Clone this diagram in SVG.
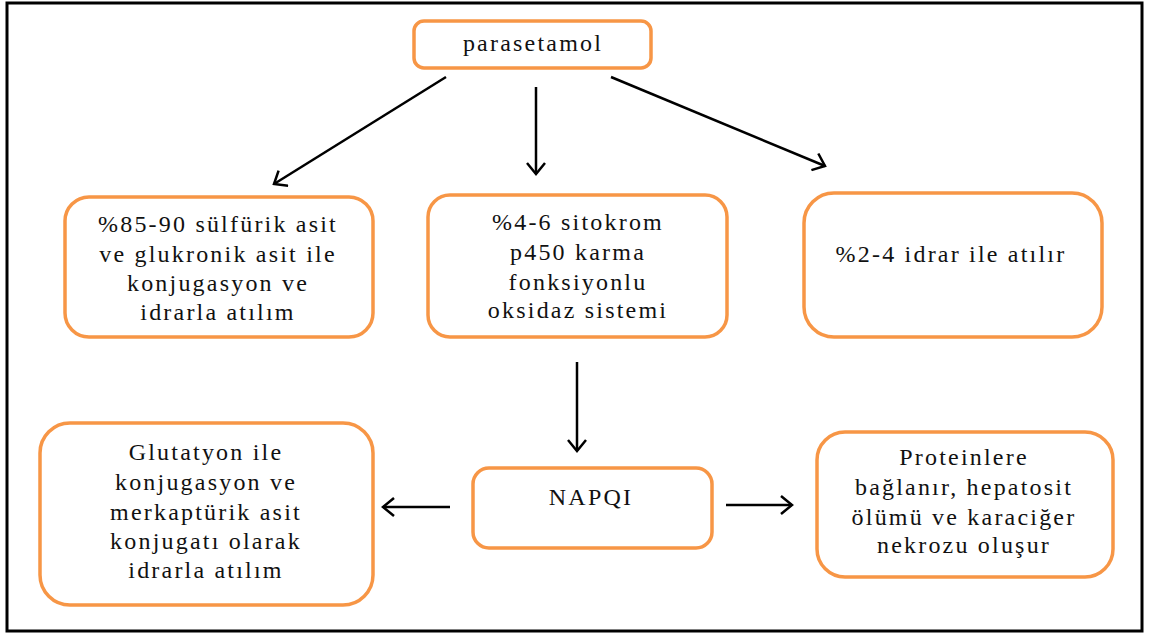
<svg xmlns="http://www.w3.org/2000/svg" width="1150" height="635" viewBox="0 0 1150 635">
<defs>
<style>
.box{fill:#fff;stroke:#F79646;stroke-width:3.5}
.t{font-size:24px;letter-spacing:2.2px;fill:#111;text-anchor:middle}
.c{stroke:#000;stroke-width:2.5;fill:none}
</style>
<marker id="ah" viewBox="0 0 14 20" refX="12" refY="10" markerWidth="14" markerHeight="20" markerUnits="userSpaceOnUse" orient="auto">
<path d="M1,1 L12,10 L1,19" fill="none" stroke="#000" stroke-width="2.5"/>
</marker>
</defs>
<rect x="0" y="0" width="1150" height="635" fill="#fff"/>
<rect x="7" y="3" width="1135" height="628" fill="none" stroke="#000" stroke-width="3"/>
<g id="connectors">
<line class="c" x1="446" y1="77" x2="274" y2="184" marker-end="url(#ah)"/>
<line class="c" x1="536" y1="87" x2="536" y2="174" marker-end="url(#ah)"/>
<line class="c" x1="611" y1="77" x2="825" y2="166" marker-end="url(#ah)"/>
<line class="c" x1="577" y1="362" x2="577" y2="451" marker-end="url(#ah)"/>
<line class="c" x1="450" y1="507" x2="383" y2="507" marker-end="url(#ah)"/>
<line class="c" x1="726" y1="505" x2="792" y2="505" marker-end="url(#ah)"/>
</g>
<g font-family="Liberation Serif, serif">
<g id="parasetamol">
<rect class="box" x="414" y="21" width="237" height="47" rx="10"/>
<text class="t" x="533" y="51">parasetamol</text>
</g>
<g id="konjugasyon">
<rect class="box" x="65" y="197" width="308" height="140" rx="24"/>
<text class="t" x="218" y="232">%85-90 sülfürik asit</text>
<text class="t" x="218" y="262">ve glukronik asit ile</text>
<text class="t" x="218" y="291">konjugasyon ve</text>
<text class="t" x="218" y="320">idrarla atılım</text>
</g>
<g id="sitokrom">
<rect class="box" x="428" y="195" width="299" height="142" rx="22"/>
<text class="t" x="578" y="230">%4-6 sitokrom</text>
<text class="t" x="578" y="260">p450 karma</text>
<text class="t" x="578" y="290">fonksiyonlu</text>
<text class="t" x="578" y="318">oksidaz sistemi</text>
</g>
<g id="idrar">
<rect class="box" x="804" y="193" width="298" height="144" rx="30"/>
<text class="t" x="951" y="262">%2-4 idrar ile atılır</text>
</g>
<g id="napqi">
<rect class="box" x="473" y="468" width="239" height="80" rx="16"/>
<text class="t" x="591" y="505">NAPQI</text>
</g>
<g id="glutatyon">
<rect class="box" x="40" y="423" width="333" height="182" rx="30"/>
<text class="t" x="206" y="460">Glutatyon ile</text>
<text class="t" x="206" y="490">konjugasyon ve</text>
<text class="t" x="206" y="520">merkaptürik asit</text>
<text class="t" x="206" y="549">konjugatı olarak</text>
<text class="t" x="206" y="578">idrarla atılım</text>
</g>
<g id="proteinlere">
<rect class="box" x="817" y="432" width="296" height="145" rx="28"/>
<text class="t" x="964" y="465">Proteinlere</text>
<text class="t" x="964" y="495">bağlanır, hepatosit</text>
<text class="t" x="964" y="525">ölümü ve karaciğer</text>
<text class="t" x="964" y="553">nekrozu oluşur</text>
</g>
</g>
</svg>
